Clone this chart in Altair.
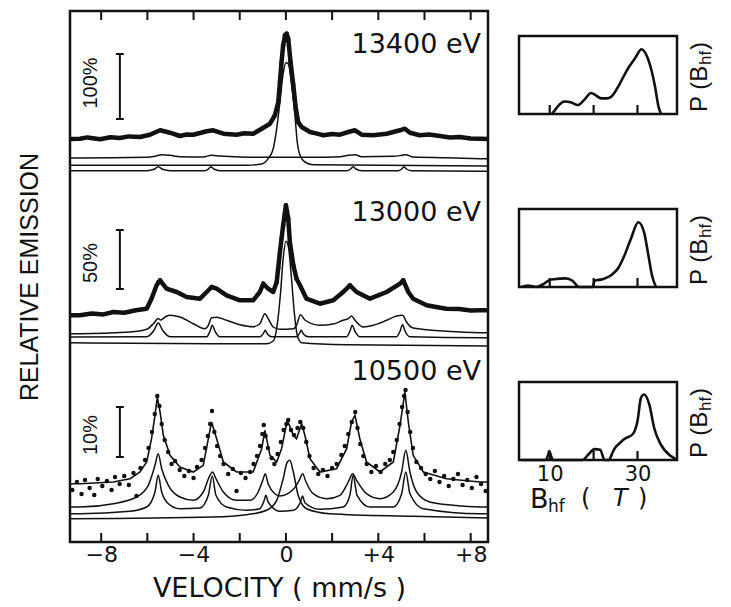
import altair as alt
import pandas as pd

NARROW = "Liberation Sans Narrow, Liberation Sans, sans-serif"
WIDE = "DejaVu Sans, Verdana, sans-serif"
INK = "#111111"

# ---------------- data: velocity (mm/s), relative emission (arb. units) ----------------
spectra = ["13400 eV", "13000 eV", "10500 eV"]
offsets = [370, 180, 0]

top_counts = [(-9.35, 43.0), (-8.92, 43.3), (-8.6, 44.6), (-8.05, 42.7), (-7.6, 44.8), (-7.19, 44.0),
              (-6.8, 45.6), (-6.32, 45.0), (-5.89, 47.3), (-5.45, 51.7), (-5.02, 49.3), (-4.59, 46.0),
              (-4.3, 47.5), (-4.01, 47.3), (-3.43, 50.7), (-3.15, 51.7), (-2.71, 48.3), (-2.14, 47.3),
              (-1.8, 48.8), (-1.42, 48.3), (-1.05, 53.3), (-0.69, 58.3), (-0.48, 66.7), (-0.33, 80.0),
              (-0.26, 100.0), (-0.19, 120.0), (-0.12, 136.7), (-0.04, 146.7), (0.03, 148.3), (0.10, 143.3),
              (0.20, 120.0), (0.32, 96.7), (0.43, 73.3), (0.53, 60.0), (0.68, 55.0), (1.04, 50.0),
              (1.3, 48.6), (1.62, 46.7), (2.0, 48.0), (2.34, 47.3), (2.70, 50.0), (2.99, 51.7),
              (3.28, 47.3), (3.78, 46.7), (4.36, 48.3), (4.94, 51.7), (5.15, 53.3), (5.37, 49.3),
              (5.80, 46.7), (6.2, 47.4), (6.67, 46.0), (7.1, 44.6), (7.53, 45.0), (8.0, 43.6),
              (8.40, 43.3), (8.75, 43.0)]
top_peak_points = [(-0.48, 66.7), (-0.40, 72.0), (-0.33, 80.0), (-0.26, 100.0), (-0.19, 120.0),
                   (-0.12, 136.7), (-0.04, 146.7), (0.03, 148.3), (0.10, 143.3), (0.20, 120.0),
                   (0.32, 96.7), (0.43, 73.3), (0.53, 60.0)]
top_fit_broad = [(-9.35, 24.0), (-8.92, 24.0), (-6.03, 24.7), (-5.67, 25.7), (-5.38, 27.3), (-5.02, 26.7),
                 (-4.59, 25.3), (-3.58, 25.0), (-3.22, 26.7), (-2.86, 26.0), (-1.99, 25.0), (-1.13, 24.7),
                 (-0.55, 24.7), (0.61, 24.7), (1.18, 24.7), (2.34, 25.3), (2.70, 26.7), (2.99, 27.3),
                 (3.28, 25.3), (4.65, 25.7), (5.01, 26.7), (5.19, 27.3), (5.51, 25.0), (6.95, 24.3),
                 (8.40, 23.3), (8.75, 23.0)]
top_fit_sharp = [(-9.35, 11.3), (-6.03, 11.3), (-5.71, 12.7), (-5.53, 15.3), (-5.34, 12.7), (-5.02, 11.3),
                 (-3.51, 11.3), (-3.36, 13.0), (-3.25, 15.3), (-3.12, 13.0), (-2.86, 11.3), (2.63, 11.3),
                 (2.80, 13.0), (2.91, 15.3), (3.03, 13.0), (3.28, 11.3), (4.86, 11.3), (5.01, 13.0),
                 (5.11, 15.3), (5.22, 13.0), (5.44, 11.3), (8.40, 10.7), (8.75, 10.7)]
top_fit_singlet = [(-9.35, 16.7), (-1.70, 16.7), (-1.05, 18.0), (-0.77, 23.3), (-0.55, 33.3), (-0.40, 53.3),
                   (-0.26, 80.0), (-0.12, 108.3), (0.00, 119.3), (0.10, 118.3), (0.25, 96.7), (0.39, 66.7),
                   (0.49, 40.0), (0.61, 26.7), (0.82, 20.0), (1.18, 17.3), (8.75, 16.0)]

mid_counts = [(-9.35, 56.7), (-8.92, 56.7), (-8.4, 58.5), (-7.9, 57.6), (-7.48, 60.0), (-7.0, 59.2),
              (-6.5, 61.8), (-6.03, 63.3), (-5.82, 73.3), (-5.60, 86.7), (-5.45, 91.7), (-5.17, 83.3),
              (-4.73, 80.0), (-4.30, 75.0), (-3.72, 73.3), (-3.43, 80.0), (-3.22, 85.0), (-3.00, 83.3),
              (-2.57, 76.7), (-1.99, 71.7), (-1.42, 71.7), (-1.13, 80.0), (-0.98, 88.3), (-0.77, 83.3),
              (-0.55, 80.0), (-0.40, 90.0), (-0.26, 120.0), (-0.12, 146.7), (0.00, 166.7), (0.10, 153.3),
              (0.17, 130.0), (0.32, 106.7), (0.46, 93.3), (0.61, 86.7), (0.75, 80.0), (0.89, 73.3),
              (1.47, 68.3), (2.05, 71.7), (2.48, 80.0), (2.77, 86.7), (3.06, 80.0), (3.64, 73.3),
              (4.36, 80.0), (4.94, 88.3), (5.08, 91.7), (5.30, 80.0), (5.51, 73.3), (6.09, 66.7),
              (6.5, 65.0), (6.95, 63.3), (7.5, 63.0), (8.0, 61.4), (8.40, 61.7), (8.75, 61.7)]
mid_peak_points = [(-5.53, 90.0), (-5.45, 91.7), (-3.22, 85.0), (-0.98, 88.3), (-0.40, 90.0), (-0.33, 104.0),
                   (-0.26, 120.0), (-0.19, 134.0), (-0.12, 146.7), (-0.05, 158.0), (0.00, 166.7),
                   (0.05, 161.0), (0.10, 153.3), (0.17, 130.0), (0.25, 117.0), (0.32, 106.7),
                   (0.46, 93.3), (2.77, 86.7), (5.08, 91.7)]
mid_fit_broad = [(-9.35, 38.3), (-8.92, 38.3), (-6.75, 40.0), (-6.03, 42.7), (-5.74, 48.3), (-5.53, 53.5),
                 (-5.42, 52.0), (-5.2, 55.5), (-5.02, 56.7), (-4.59, 55.0), (-4.01, 48.3), (-3.51, 43.3),
                 (-3.36, 46.7), (-3.22, 54.3), (-3.00, 54.7), (-2.57, 51.7), (-1.99, 47.3), (-1.42, 45.3),
                 (-1.13, 48.3), (-0.91, 58.3), (-0.77, 53.3), (-0.55, 45.0), (-0.26, 42.7), (0.32, 43.3),
                 (0.46, 46.7), (0.63, 57.3), (0.82, 52.0), (1.47, 46.7), (2.05, 48.0), (2.48, 51.7),
                 (2.70, 53.3), (2.84, 56.0), (2.99, 51.7), (3.35, 45.0), (3.78, 46.7), (4.36, 51.7),
                 (4.79, 56.0), (5.05, 56.7), (5.22, 50.0), (5.51, 44.0), (6.95, 40.7), (8.40, 39.3),
                 (8.75, 39.3)]
mid_fit_sharp = [(-9.35, 35.0), (-6.03, 35.3), (-5.71, 41.7), (-5.53, 49.0), (-5.34, 41.7), (-5.02, 35.3),
                 (-3.43, 35.3), (-3.29, 40.7), (-3.19, 46.7), (-3.07, 40.7), (-2.86, 35.3), (-1.13, 35.3),
                 (-0.98, 38.3), (-0.90, 41.7), (-0.81, 38.3), (-0.62, 35.3), (0.46, 35.3), (0.58, 38.3),
                 (0.66, 41.7), (0.75, 38.3), (0.96, 35.3), (2.63, 35.3), (2.77, 40.7), (2.87, 46.7),
                 (2.99, 40.7), (3.20, 35.3), (4.79, 35.3), (4.94, 40.7), (5.05, 47.3), (5.16, 40.7),
                 (5.37, 35.3), (8.40, 34.3), (8.75, 34.3)]
mid_fit_singlet = [(-9.35, 29.3), (-3.15, 28.3), (-0.84, 28.3), (-0.55, 31.0), (-0.38, 46.7), (-0.23, 80.0),
                   (-0.12, 113.3), (0.00, 130.7), (0.11, 125.0), (0.23, 96.7), (0.36, 60.0), (0.49, 36.7),
                   (0.68, 29.3), (2.63, 27.3), (8.75, 26.0)]

bot_counts = [(-9.25, 62), (-9.05, 70), (-8.85, 58), (-8.7, 72), (-8.5, 64), (-8.3, 57), (-8.15, 73),
              (-7.95, 66), (-7.75, 71), (-7.55, 62), (-7.4, 75), (-7.2, 68), (-7.0, 76), (-6.8, 67),
              (-6.6, 79), (-6.47, 56), (-6.3, 84), (-6.1, 92), (-5.95, 104), (-5.8, 120), (-5.68, 138),
              (-5.57, 156), (-5.48, 146), (-5.38, 128), (-5.25, 112), (-5.1, 100), (-4.95, 88), (-4.8, 91),
              (-4.6, 82), (-4.4, 76), (-4.2, 81), (-4.0, 74), (-3.85, 85), (-3.65, 92), (-3.5, 104),
              (-3.38, 116), (-3.28, 128), (-3.2, 141), (-3.1, 120), (-2.98, 106), (-2.85, 96), (-2.7, 88),
              (-2.5, 78), (-2.3, 83), (-2.14, 61), (-1.95, 79), (-1.75, 74), (-1.55, 80), (-1.4, 88),
              (-1.25, 96), (-1.12, 106), (-1.02, 118), (-0.96, 127), (-0.88, 116), (-0.78, 104),
              (-0.62, 94), (-0.5, 88), (-0.36, 98), (-0.22, 110), (-0.1, 122), (0.02, 128), (0.1, 132),
              (0.22, 122), (0.35, 117), (0.5, 124), (0.62, 130), (0.75, 124), (0.88, 110), (1.02, 96),
              (1.2, 84), (1.4, 78), (1.6, 82), (1.8, 76), (2.0, 84), (2.2, 88), (2.4, 97), (2.55, 106),
              (2.7, 118), (2.85, 130), (3.0, 140), (3.1, 124), (3.22, 108), (3.35, 96), (3.5, 88),
              (3.7, 80), (3.9, 86), (4.1, 80), (4.3, 88), (4.5, 92), (4.65, 100), (4.8, 112), (4.92, 128),
              (5.03, 145), (5.12, 156), (5.18, 162), (5.27, 140), (5.38, 120), (5.5, 104), (5.65, 90),
              (5.85, 84), (6.05, 78), (6.25, 73), (6.45, 81), (6.65, 70), (6.85, 76), (7.05, 66),
              (7.25, 73), (7.45, 78), (7.65, 67), (7.85, 72), (8.05, 64), (8.25, 75), (8.45, 68), (8.65, 61)]
bot_fit_total = [(-9.35, 68.3), (-8.92, 68.3), (-7.48, 70.0), (-6.75, 73.3), (-6.32, 80.0), (-6.03, 90.0),
                 (-5.82, 113.3), (-5.67, 136.7), (-5.57, 155.0), (-5.45, 140.0), (-5.31, 116.7), (-5.02, 96.7),
                 (-4.59, 85.0), (-4.01, 80.0), (-3.58, 86.7), (-3.36, 113.3), (-3.22, 130.0), (-3.00, 113.3),
                 (-2.71, 90.0), (-2.14, 80.0), (-1.42, 80.0), (-1.05, 103.3), (-0.91, 121.7), (-0.69, 96.7),
                 (-0.40, 90.0), (-0.19, 103.3), (0.06, 131.7), (0.32, 116.7), (0.46, 113.3), (0.68, 128.3),
                 (0.82, 116.7), (1.04, 93.3), (1.47, 80.0), (2.19, 83.3), (2.63, 103.3), (2.84, 130.0),
                 (2.99, 136.7), (3.20, 113.3), (3.49, 90.0), (4.07, 80.0), (4.65, 90.0), (4.94, 126.7),
                 (5.15, 160.0), (5.30, 130.0), (5.51, 96.7), (5.95, 80.0), (6.95, 73.3), (8.40, 70.0),
                 (8.75, 70.0)]
bot_fit_broad = [(-9.35, 45.0), (-8.92, 45.0), (-7.48, 48.3), (-6.47, 55.0), (-5.96, 66.7), (-5.67, 86.7),
                 (-5.53, 98.3), (-5.38, 83.3), (-5.09, 66.7), (-4.59, 55.0), (-4.01, 51.7), (-3.58, 60.0),
                 (-3.29, 76.7), (-3.18, 80.0), (-3.03, 73.3), (-2.71, 60.0), (-2.14, 51.7), (-1.56, 51.7),
                 (-1.20, 60.0), (-0.98, 73.3), (-0.90, 78.3), (-0.77, 68.3), (-0.48, 58.3), (-0.26, 56.0),
                 (0.32, 62.7), (0.61, 73.3), (0.72, 78.3), (0.87, 70.0), (1.18, 58.3), (1.76, 53.3),
                 (2.34, 56.7), (2.70, 70.0), (2.89, 78.3), (3.06, 71.7), (3.49, 58.3), (4.07, 53.3),
                 (4.65, 60.0), (5.01, 80.0), (5.19, 101.7), (5.37, 80.0), (5.66, 60.0), (6.23, 50.0),
                 (7.24, 46.7), (8.40, 45.0), (8.75, 45.0)]
bot_fit_sharp = [(-9.35, 38.3), (-8.92, 38.3), (-6.75, 40.7), (-6.03, 45.0), (-5.67, 60.0), (-5.53, 76.7),
                 (-5.38, 60.0), (-5.09, 48.3), (-4.59, 43.3), (-3.72, 44.0), (-3.36, 56.7), (-3.19, 76.0),
                 (-3.03, 56.7), (-2.57, 45.0), (-1.70, 41.7), (-1.13, 43.3), (-0.94, 51.7), (-0.87, 56.7),
                 (-0.77, 50.0), (-0.26, 40.7), (0.32, 41.7), (0.63, 50.0), (0.72, 56.0), (0.82, 49.3),
                 (1.47, 42.7), (2.48, 45.0), (2.77, 56.7), (2.91, 76.7), (3.08, 56.7), (3.64, 45.0),
                 (4.65, 45.0), (5.01, 58.3), (5.19, 80.0), (5.37, 58.3), (5.95, 43.3), (8.40, 38.3),
                 (8.75, 38.3)]
bot_fit_singlet = [(-9.35, 33.3), (-3.15, 35.0), (-1.70, 37.3), (-0.84, 41.7), (-0.40, 51.7), (-0.12, 73.3),
                   (0.06, 90.0), (0.17, 91.7), (0.32, 80.0), (0.53, 56.7), (0.89, 43.3), (1.90, 38.3),
                   (5.51, 35.7), (8.75, 34.0)]

# scale bars: label, low, high (spectrum units)
bar_labels = ["100%", "50%", "10%"]
bar_low = [63, 83, 95]
bar_high = [128, 142, 145]
bar_label_y = [99, 109, 117]
energy_label_y = [137, 159, 180]

velocity_ticks = [-8, -6, -4, -2, 0, 2, 4, 6, 8]

# hyperfine field distributions P(B_hf), B in tesla
pb_top = [(10.5, 0.0), (11.2, 0.05), (12.2, 0.12), (13.3, 0.16), (14.8, 0.15), (16.4, 0.115), (18.0, 0.19),
          (19.4, 0.27), (20.5, 0.24), (21.7, 0.20), (23.0, 0.20), (24.0, 0.22), (25.6, 0.35), (27.0, 0.50),
          (27.9, 0.59), (29.5, 0.72), (30.9, 0.83), (32.5, 0.69), (34.0, 0.35), (34.8, 0.09), (35.4, 0.0)]
pb_mid = [(3.5, 0.0), (5.0, 0.02), (7.0, 0.0), (8.5, 0.035), (10.0, 0.09), (11.0, 0.10), (13.7, 0.11),
          (15.2, 0.08), (16.7, 0.0), (19.8, 0.0), (20.2, 0.08), (22.0, 0.10), (24.0, 0.15), (25.7, 0.25),
          (27.0, 0.40), (28.5, 0.62), (30.2, 0.83), (31.5, 0.70), (32.5, 0.40), (33.3, 0.15), (34.2, 0.0)]
pb_bot = [(3.5, 0.0), (9.0, 0.0), (9.6, 0.06), (9.9, 0.115), (10.3, 0.05), (10.8, 0.0), (17.5, 0.0),
          (18.8, 0.07), (20.2, 0.14), (21.5, 0.13), (22.5, 0.0), (23.5, 0.0), (24.2, 0.08), (24.7, 0.14),
          (26.0, 0.22), (27.0, 0.27), (28.9, 0.33), (30.0, 0.50), (30.8, 0.80), (31.5, 0.84), (32.7, 0.71),
          (33.8, 0.41), (35.3, 0.20), (37.6, 0.05), (38.7, 0.01)]
b_ticks = [10, 20, 30]
b_labels = [10, 30]

# ---------------- build tables ----------------
def table(groups):
    rows = []
    for key, pairs, off in groups:
        for v, val in pairs:
            rows.append({"v": v, "y": val + off, "key": key})
    return pd.DataFrame(rows)

fits_df = table([
    ("t_broad", top_fit_broad, offsets[0]), ("t_sharp", top_fit_sharp, offsets[0]),
    ("t_sing", top_fit_singlet, offsets[0]),
    ("m_broad", mid_fit_broad, offsets[1]), ("m_sharp", mid_fit_sharp, offsets[1]),
    ("m_sing", mid_fit_singlet, offsets[1]),
    ("b_broad", bot_fit_broad, offsets[2]), ("b_sharp", bot_fit_sharp, offsets[2]),
    ("b_sing", bot_fit_singlet, offsets[2]),
])
band_df = table([("t", top_counts, offsets[0]), ("m", mid_counts, offsets[1])])
total_df = table([("b", bot_fit_total, offsets[2])])
pts_df = table([("t", top_peak_points, offsets[0]), ("m", mid_peak_points, offsets[1]),
                ("b", bot_counts, offsets[2])])

bar_df = pd.DataFrame({
    "label": bar_labels,
    "v": [-7.19] * 3, "v0": [-7.36] * 3, "v1": [-7.02] * 3, "vl": [-8.42] * 3,
    "lo": [a + o for a, o in zip(bar_low, offsets)],
    "hi": [a + o for a, o in zip(bar_high, offsets)],
    "ly": [a + o for a, o in zip(bar_label_y, offsets)],
})
energy_df = pd.DataFrame({"label": spectra, "v": [8.45] * 3,
                          "y": [a + o for a, o in zip(energy_label_y, offsets)]})
tick_df = pd.DataFrame({"v": velocity_ticks})

# ---------------- main panel ----------------
W, H = 418, 531
xs = alt.Scale(domain=[-9.35, 8.75], nice=False, zero=False)
ys = alt.Scale(domain=[10, 541], nice=False, zero=False)
xaxis = alt.Axis(values=[-8, -4, 0, 4, 8],
                 labelExpr="datum.value > 0 ? '+' + datum.value : (datum.value < 0 ? '\u2212' + abs(datum.value) : '0')",
                 ticks=False, domain=False, grid=False, labelFontSize=22, labelFont=WIDE,
                 labelColor=INK, labelPadding=2, title="VELOCITY  (  mm/s  )", titleFont=WIDE,
                 titleFontSize=27, titleFontWeight="normal", titleColor=INK, titlePadding=10)
yaxis = alt.Axis(labels=False, ticks=False, domain=False, grid=False, title="RELATIVE EMISSION",
                 titleFont=NARROW, titleFontSize=25, titleFontWeight="normal", titleColor=INK,
                 titlePadding=28)

def X(f="v"):
    return alt.X(f"{f}:Q", scale=xs, axis=xaxis)

def Y(f="y"):
    return alt.Y(f"{f}:Q", scale=ys, axis=yaxis)

fits = alt.Chart(fits_df).mark_line(interpolate="monotone", strokeWidth=1.5, color=INK).encode(
    x=X(), y=Y(), detail="key:N")
band = alt.Chart(band_df).mark_line(interpolate="linear", strokeWidth=4.5, color=INK,
                                    strokeJoin="round").encode(x=X(), y=Y(), detail="key:N")
total = alt.Chart(total_df).mark_line(interpolate="linear", strokeWidth=1.6, color=INK).encode(
    x=X(), y=Y())
pts = alt.Chart(pts_df).mark_circle(size=20, opacity=1, color=INK).encode(x=X(), y=Y())
ticks_top = alt.Chart(tick_df).mark_rule(strokeWidth=2, color=INK).encode(
    x=X(), y=alt.value(0), y2=alt.value(9))
ticks_bot = alt.Chart(tick_df).mark_rule(strokeWidth=2, color=INK).encode(
    x=X(), y=alt.value(H - 9), y2=alt.value(H))
bar_v = alt.Chart(bar_df).mark_rule(strokeWidth=2, color=INK).encode(x=X(), y=Y("lo"), y2="hi:Q")
bar_lo = alt.Chart(bar_df).mark_rule(strokeWidth=2, color=INK).encode(x=X("v0"), x2="v1:Q", y=Y("lo"))
bar_hi = alt.Chart(bar_df).mark_rule(strokeWidth=2, color=INK).encode(x=X("v0"), x2="v1:Q", y=Y("hi"))
bar_txt = alt.Chart(bar_df).mark_text(angle=270, font=NARROW, fontSize=20, align="center",
                                      baseline="middle", color=INK).encode(
    x=X("vl"), y=Y("ly"), text="label:N")
energy = alt.Chart(energy_df).mark_text(align="right", baseline="middle", font=WIDE, fontSize=27,
                                        color=INK).encode(x=X(), y=Y(), text="label:N")

main = alt.layer(fits, total, band, pts, ticks_top, ticks_bot, bar_v, bar_lo, bar_hi, bar_txt,
                 energy).properties(width=W, height=H)

# ---------------- P(B_hf) panels ----------------
PW, PH = 158, 78
bx = alt.Scale(domain=[3, 39], nice=False, zero=False)
by = alt.Scale(domain=[0, 1], nice=False, zero=False)
one = pd.DataFrame({"a": [0]})


def txt(s, x, y, size, italic=False, font=NARROW, angle=270, align="left"):
    return alt.Chart(one).mark_text(text=s, angle=angle, font=font, fontSize=size, align=align,
                                    baseline="middle", color=INK,
                                    fontStyle="italic" if italic else "normal").encode(
        x=alt.value(x), y=alt.value(y))


def panel(pairs, bottom=False):
    ax = (alt.Axis(values=b_labels, ticks=False, domain=False, grid=False, labelFontSize=21,
                   labelFont=WIDE, labelColor=INK, labelPadding=3, title=None)
          if bottom else None)
    df = pd.DataFrame(pairs, columns=["b", "p"])
    line = alt.Chart(df).mark_line(interpolate="monotone", strokeWidth=2.6, color=INK).encode(
        x=alt.X("b:Q", scale=bx, axis=ax), y=alt.Y("p:Q", scale=by, axis=None))
    tk = alt.Chart(pd.DataFrame({"b": b_ticks})).mark_rule(strokeWidth=2.2, color=INK).encode(
        x=alt.X("b:Q", scale=bx, axis=ax), y=alt.value(PH - 9), y2=alt.value(PH))
    layers = [line, tk,
              txt("P (B", PW + 23, PH - 2, 24),
              txt("hf", PW + 29, PH - 49, 17),
              txt(")", PW + 23, PH - 64, 24)]
    if bottom:
        layers += [txt("B", 11, PH + 40, 27, font=WIDE, angle=0),
                   txt("hf", 29, PH + 47, 17, font=WIDE, angle=0),
                   txt("(", 62, PH + 39, 24, font=WIDE, angle=0),
                   txt("T", 94, PH + 39, 24, italic=True, font=WIDE, angle=0),
                   txt(")", 119, PH + 39, 24, font=WIDE, angle=0)]
    return alt.layer(*layers).properties(width=PW, height=PH)


# empty strip that keeps the distribution column lower than the spectra frame
spacer = alt.Chart(one).mark_rule(strokeOpacity=0).encode(
    x=alt.value(0), y=alt.value(0), y2=alt.value(1)
).properties(width=PW, height=23, view=alt.ViewBackground(stroke=None))

panels = alt.vconcat(panel(pb_top), panel(pb_mid), panel(pb_bot, bottom=True), spacing=86)
side = alt.vconcat(spacer, panels, spacing=0)

chart = alt.hconcat(main, side, spacing=21).properties(
    padding={"left": 15, "top": 8, "right": 0, "bottom": 0}, background="white"
).configure_view(stroke=INK, strokeWidth=2.5)

chart.save("out.html", embed_options={"renderer": "svg", "actions": False})
